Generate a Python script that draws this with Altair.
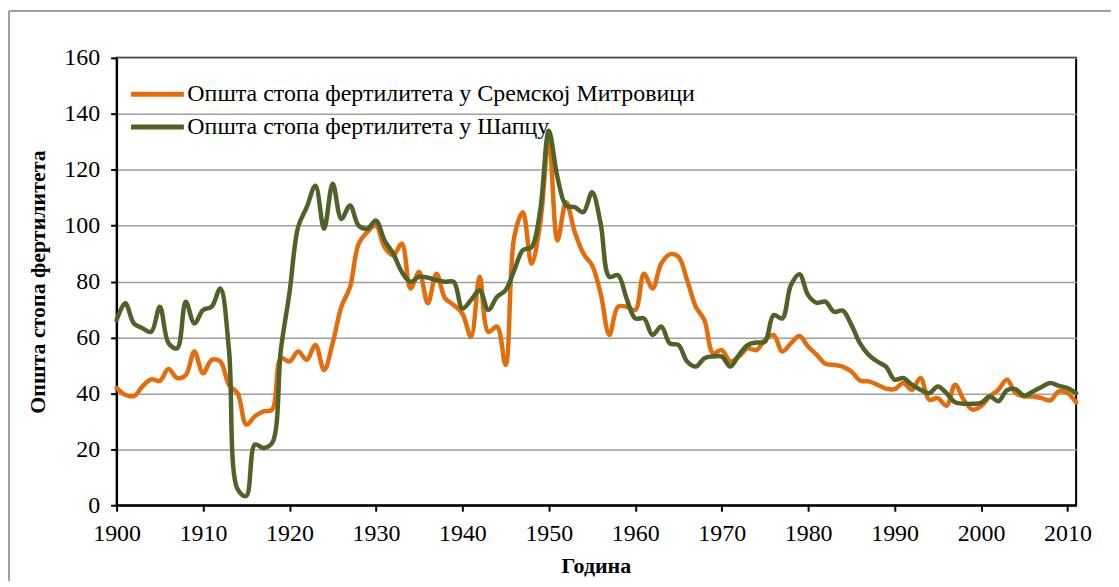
import altair as alt
import pandas as pd

years = list(range(1900, 2012))

sremska = [
    42, 39.5, 39, 42.5, 45, 44.5, 48.7, 45.5, 46.5, 55,
    47.2, 52, 51.4, 43, 40, 28.8, 31.8, 33.6, 34.2, 52.6,
    51.4, 55, 52, 57.3, 48.4, 58, 71, 78, 93.5, 97.7,
    100, 92.3, 89.4, 93.5, 77.5, 83.4, 72.2, 82.8, 74, 71.6,
    68.6, 60.3, 81.7, 62, 63.9, 50.2, 95.9, 104.8, 86.4, 100.7,
    131, 94.7, 108.4, 97.7, 90, 85.8, 75.7, 60.9, 71, 71,
    69.8, 82.8, 77.5, 86.4, 89.7, 88.8, 80.5, 71, 66.2, 54.4,
    55.5, 51.4, 53.2, 56.1, 55.5, 59.1, 60.9, 55, 57.9, 60.5,
    56.7, 53.8, 50.6, 50.2, 49.6, 47.8, 44.6, 44.3, 43.1, 41.7,
    41.5, 43.7, 41.3, 45.5, 37.7, 38.3, 35.6, 43.1, 37.7, 34.2,
    35.4, 38.9, 41.3, 44.9, 40.1, 38.9, 38.9, 38.3, 37.5, 40.7,
    40.1, 36.8,
]

sabac = [
    66.2, 72.2, 65, 63.3, 62, 71, 58, 56.1, 72.8, 65,
    69.8, 71, 77.5, 55.5, 5.7, 3.3, 21.7, 20.5, 22.3, 55.5,
    76, 99.5, 106.6, 114.3, 98.9, 115, 102.4, 107.2, 100, 98.9,
    101.8, 94.7, 90, 83.4, 79.9, 81.7, 81.4, 80.5, 79.9, 79.9,
    70.4, 73.4, 76.9, 69.8, 74.5, 76.9, 84, 91.2, 92.3, 105.4,
    133.9, 117.3, 107.2, 106.6, 104.8, 111.9, 100.7, 81.7, 82.3, 73.9,
    66.8, 66.8, 60.9, 63.9, 57.9, 57.3, 51.4, 49.6, 52.6, 53.2,
    53.2, 49.6, 53.8, 57.3, 58.2, 58.5, 68, 66.8, 78.7, 82.6,
    75.1, 72.4, 72.8, 69.2, 69.6, 64.5, 57.9, 53.8, 51.4, 49.6,
    44.9, 45.5, 43.1, 41.3, 40.1, 42.5, 40.1, 36.8, 36.3, 36.3,
    36.6, 38.9, 37.2, 41.1, 41.5, 39.2, 40.7, 42.3, 43.7, 42.7,
    41.9, 40.1,
]

series_names = [
    "Општа стопа фертилитета у Сремској Митровици",
    "Општа стопа фертилитета у Шапцу",
]
series_colors = ["#E46C0A", "#4F6228"]
x_ticks = list(range(1900, 2011, 10))
y_ticks = list(range(0, 161, 20))

rows = []
for name, vals in zip(series_names, [sremska, sabac]):
    for yr, v in zip(years, vals):
        rows.append({"year": yr, "value": v, "series": name, "order": series_names.index(name)})
df = pd.DataFrame(rows)

FONT = "Liberation Serif"

lines = alt.Chart(df).mark_line(
    strokeWidth=4.5, interpolate="catmull-rom", strokeCap="round", strokeJoin="round"
).encode(
    x=alt.X(
        "year:Q",
        scale=alt.Scale(domain=[1900, 2011], nice=False, zero=False),
        axis=alt.Axis(
            values=x_ticks, format="d", title="Година", grid=False,
            titleX=481, titleY=61, titleBaseline="middle", titleAlign="center",
            labelPadding=10, labelFlush=False, labelOverlap=False,
        ),
    ),
    y=alt.Y(
        "value:Q",
        scale=alt.Scale(domain=[0, 160], nice=False),
        axis=alt.Axis(
            values=y_ticks, title="Општа стопа фертилитета", grid=True,
            titleX=-79, titleY=224.5, titleAngle=270, titleBaseline="middle",
            titleAlign="center", labelPadding=11, labelFlush=False,
        ),
    ),
    color=alt.Color(
        "series:N",
        scale=alt.Scale(domain=series_names, range=series_colors),
        legend=alt.Legend(
            title=None, orient="none", legendX=12, legendY=22,
            symbolType="M-1,0L3.4167,0", symbolSize=576, symbolStrokeWidth=5,
            labelFont=FONT, labelFontSize=24, labelColor="black",
            labelOffset=30, padding=0, rowPadding=6, labelLimit=800,
        ),
    ),
    order=alt.Order("order:Q"),
)

border = alt.Chart(pd.DataFrame({"k": [0]})).mark_rule(color="#A0A0A0", strokeWidth=2).encode(
    x=alt.value(-108), x2=alt.value(1010), y=alt.value(-47)
)
border_left = alt.Chart(pd.DataFrame({"k": [0]})).mark_rule(color="#A0A0A0", strokeWidth=2).encode(
    x=alt.value(-108), y=alt.value(-47), y2=alt.value(530)
)

chart = alt.layer(border, border_left, lines).properties(
    width=963, height=449,
    autosize=alt.AutoSizeParams(type="none"),
    padding={"left": 109, "top": 49, "right": 35, "bottom": 75},
    background="white",
).configure_view(
    stroke="black", strokeWidth=2,
).configure_axis(
    domainColor="black", domainWidth=2, tickColor="black", tickWidth=2, tickSize=6,
    labelFont=FONT, labelFontSize=24, labelColor="black",
    titleFont=FONT, titleFontSize=22, titleFontWeight="bold", titleColor="black",
    gridColor="#A0A0A0", gridWidth=1.5, gridOpacity=1,
)

chart.save("out.html", embed_options={"renderer": "svg", "actions": False})
